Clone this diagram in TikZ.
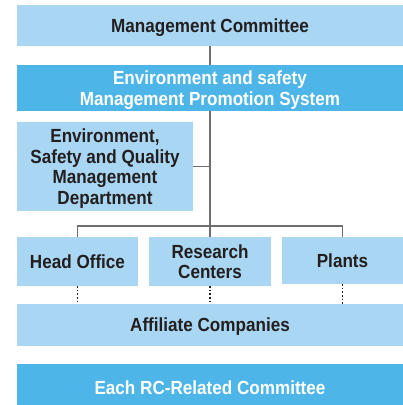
\documentclass[tikz,border=0pt]{standalone}
\usepackage{fontspec}
\setmainfont[FakeStretch=0.9]{Liberation Sans}
\definecolor{lightbox}{HTML}{A9D6F2}
\definecolor{darkbox}{HTML}{4DB5E8}
\definecolor{txt}{HTML}{231F20}
\definecolor{linecol}{HTML}{6D6E71}
\begin{document}
\begin{tikzpicture}[x=1pt,y=-1pt,
  box/.style={fill=lightbox,text=txt,inner sep=0pt,align=center,text depth=0pt,
    font=\fontsize{19}{20.5}\selectfont\bfseries},
  darkbx/.style={box,fill=darkbox,text=white},
  conn/.style={draw=linecol,line width=1.3pt},
  dotconn/.style={draw=txt,line width=1.6pt,dash pattern=on 1.6pt off 2pt}]
\useasboundingbox (0,0) rectangle (403,405);
\fill[white] (0,0) rectangle (403,405);
\node[box,minimum width=386pt,minimum height=41pt] (mc) at (210,25.5) {Management Committee};
\node[darkbx,minimum width=386pt,minimum height=46pt] (eps) at (210,88) {Environment and safety\\Management Promotion System};
\node[box,minimum width=176pt,minimum height=89pt] (dept) at (105,166.5) {Environment,\\Safety and Quality\\Management\\Department};
\node[box,minimum width=121pt,minimum height=49pt] (ho) at (77.5,261.5) {Head Office};
\node[box,minimum width=122pt,minimum height=49pt] (rc) at (210,261.5) {Research\\Centers};
\node[box,minimum width=121pt,minimum height=47pt] (pl) at (342.5,260.5) {Plants};
\node[box,minimum width=386pt,minimum height=42pt] (aff) at (210,325) {Affiliate Companies};
\node[darkbx,minimum width=386pt,minimum height=48pt] (each) at (210,388) {Each RC-Related Committee};
\coordinate (bus) at (210,226);
\draw[conn] (mc.south) -- (eps.north);
\draw[conn] (eps.south) -- (rc.north);
\draw[conn] (dept.east) -- (dept.east -| eps.south);
\draw[conn] (ho.north) |- (bus) -| (pl.north);
\draw[dotconn] (ho.south) -- (ho.south |- aff.north);
\draw[dotconn] (rc.south) -- (rc.south |- aff.north);
\draw[dotconn] (pl.south) -- (pl.south |- aff.north);
\end{tikzpicture}
\end{document}
